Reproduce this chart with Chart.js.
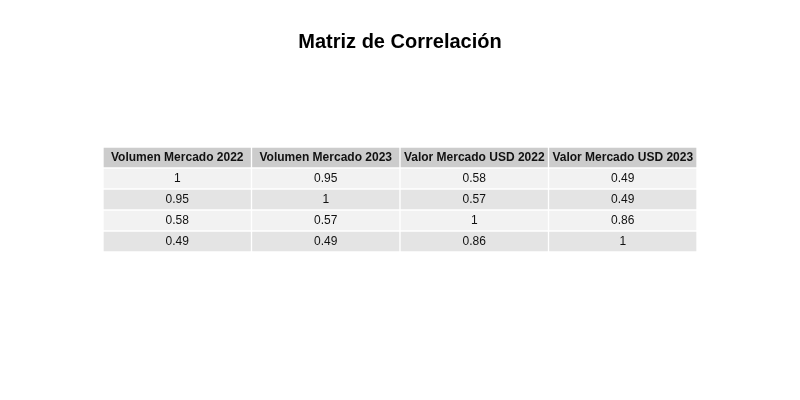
<!DOCTYPE html>
<html><head><meta charset="utf-8">
<script src="https://cdn.jsdelivr.net/npm/chart.js@4"></script>
<style>html,body{margin:0;padding:0;background:#fff}#w{width:800px;height:400px}</style>
</head><body><div id="w"><canvas id="c"></canvas></div>
<script>
const columns = ["Volumen Mercado 2022","Volumen Mercado 2023","Valor Mercado USD 2022","Valor Mercado USD 2023"];
const row1 = [1, 0.95, 0.58, 0.49];
const row2 = [0.95, 1, 0.57, 0.49];
const row3 = [0.58, 0.57, 1, 0.86];
const row4 = [0.49, 0.49, 0.86, 1];
const rows = [row1, row2, row3, row4];
const FONT = "'Liberation Sans', Arial, sans-serif";
const fills = ["#cccccc", "#f2f2f2", "#e4e4e4", "#f2f2f2", "#e4e4e4"];

const datasets = [];
for (let r = 0; r <= rows.length; r++) {
  datasets.push({
    data: columns.map(() => [r - 0.5, r + 0.5]),
    backgroundColor: fills[r],
    borderColor: "#ffffff",
    borderWidth: 1,
    borderSkipped: false,
    barPercentage: 1,
    categoryPercentage: 1,
    grouped: false
  });
}

const textPlugin = {
  id: "cellText",
  afterDatasetsDraw(chart) {
    const ctx = chart.ctx, xs = chart.scales.x, ys = chart.scales.y;
    ctx.save();
    ctx.textAlign = "center"; ctx.textBaseline = "middle"; ctx.fillStyle = "#111";
    columns.forEach((h, c) => {
      const x = xs.getPixelForValue(c);
      ctx.font = "bold 12px " + FONT;
      ctx.fillText(h, x, ys.getPixelForValue(0));
      ctx.font = "12px " + FONT;
      rows.forEach((row, r) => ctx.fillText(String(row[c]), x, ys.getPixelForValue(r + 1)));
    });
    ctx.restore();
  }
};

new Chart(document.getElementById("c"), {
  type: "bar",
  data: { labels: columns, datasets },
  options: {
    responsive: true, maintainAspectRatio: false, animation: false,
    layout: { padding: { left: 103, right: 103, top: 0, bottom: 148 } },
    plugins: {
      legend: { display: false }, tooltip: { enabled: false },
      title: { display: true, text: "Matriz de Correlación", color: "#000",
        font: { family: FONT, size: 20, weight: "bold" }, padding: { top: 30, bottom: 93 } }
    },
    scales: {
      x: { type: "category", display: false, offset: true },
      y: { type: "linear", display: false, min: -0.5, max: 4.5, reverse: true }
    }
  },
  plugins: [textPlugin]
});
</script></body></html>
